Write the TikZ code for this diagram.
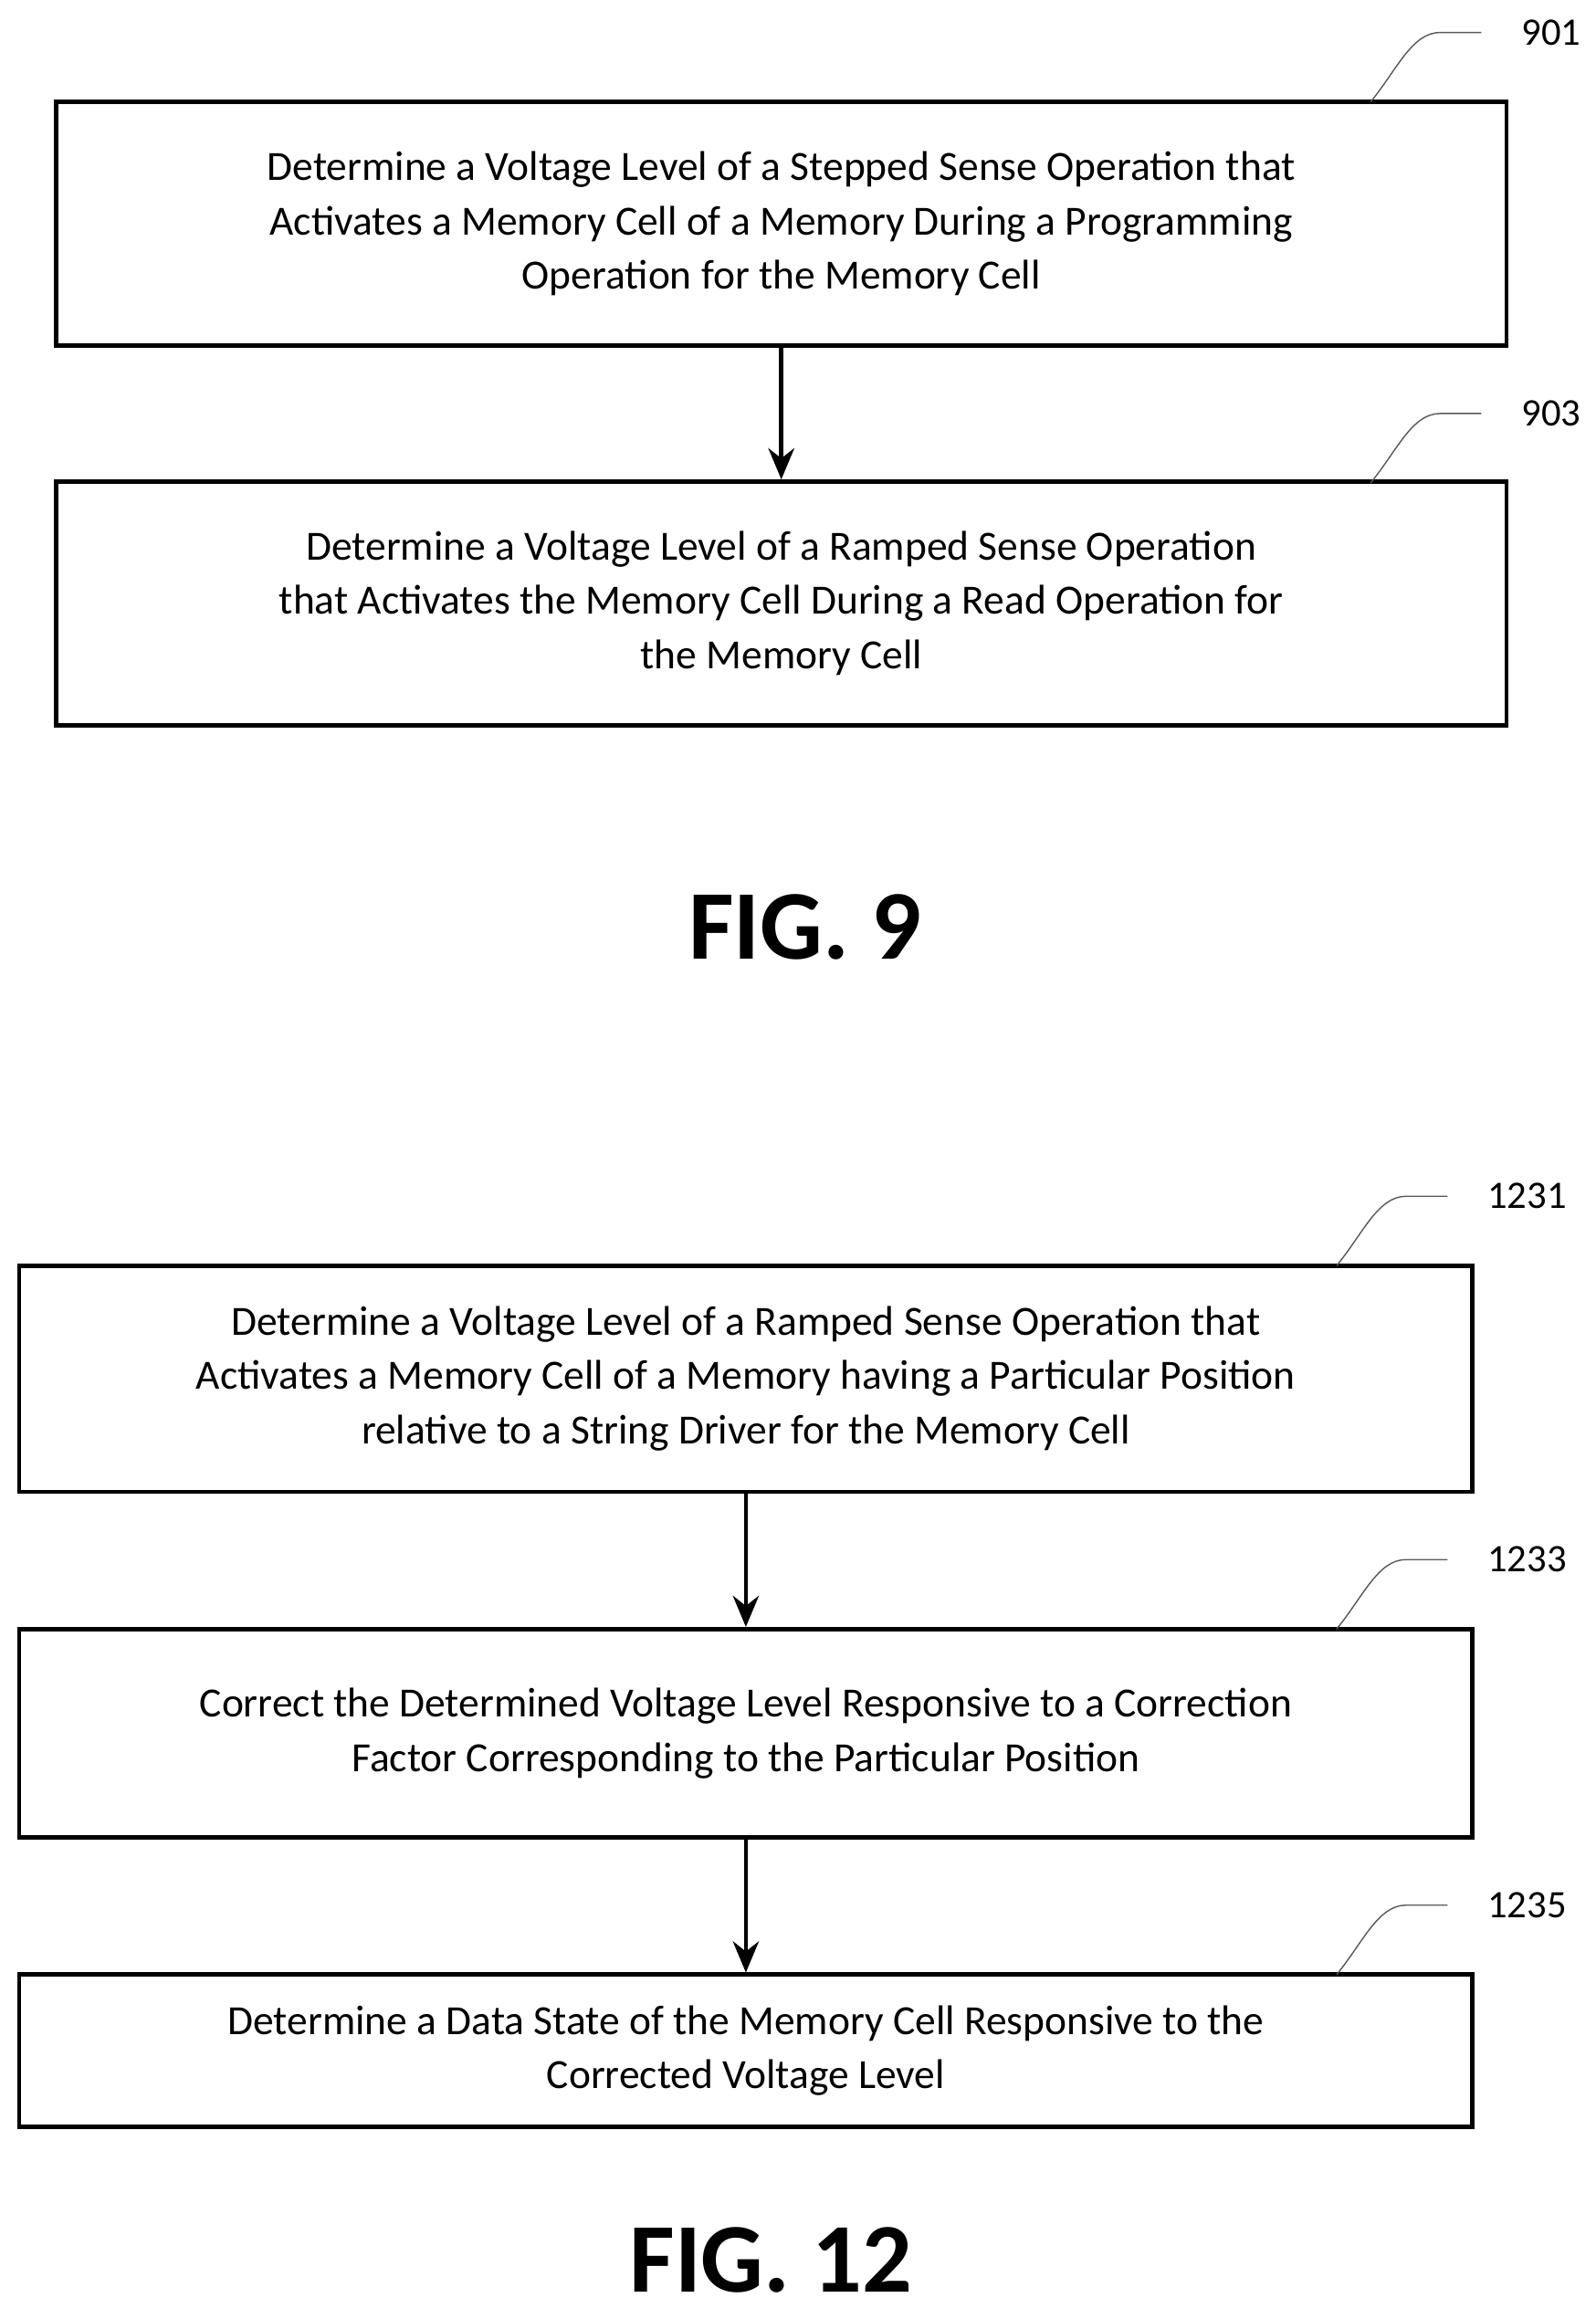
\documentclass[tikz,border=0pt]{standalone}
\usepackage{fontspec}
\setmainfont{Carlito}
\usetikzlibrary{arrows.meta}
\begin{document}
\begin{tikzpicture}[x=0.02cm,y=-0.02cm,
    stepbox/.style={draw, line width=1.6pt, align=center, font=\fontsize{16}{21}\selectfont, inner sep=0pt},
    flow/.style={line width=1.6pt, -{Stealth[length=12pt,width=10pt]}},
    leader/.style={line width=0.5pt, gray!70!black},
    refnum/.style={font=\fontsize{15}{18}\selectfont, anchor=west},
    figlabel/.style={font=\fontsize{38}{44}\selectfont\bfseries}]
    \useasboundingbox (0,0) rectangle (1080,1556);

    % FIG. 9
    \node[stepbox, minimum width=982*0.02cm, minimum height=165*0.02cm] (s901) at (529,151.5)
        {Determine a Voltage Level of a Stepped Sense Operation that\\Activates a Memory Cell of a Memory During a Programming\\Operation for the Memory Cell};
    \node[stepbox, minimum width=982*0.02cm, minimum height=165*0.02cm] (s903) at (529,408.5)
        {Determine a Voltage Level of a Ramped Sense Operation\\that Activates the Memory Cell During a Read Operation for\\the Memory Cell};
    \draw[flow] (s901) -- (s903);
    \node[figlabel] (fig9) at (545,628) {FIG. 9};

    % FIG. 12
    \node[stepbox, minimum width=984*0.02cm, minimum height=153*0.02cm] (s1231) at (505,933.5)
        {Determine a Voltage Level of a Ramped Sense Operation that\\Activates a Memory Cell of a Memory having a Particular Position\\relative to a String Driver for the Memory Cell};
    \node[stepbox, minimum width=984*0.02cm, minimum height=141*0.02cm] (s1233) at (505,1173.5)
        {Correct the Determined Voltage Level Responsive to a Correction\\Factor Corresponding to the Particular Position};
    \node[stepbox, minimum width=984*0.02cm, minimum height=103*0.02cm] (s1235) at (505,1388.5)
        {Determine a Data State of the Memory Cell Responsive to the\\Corrected Voltage Level};
    \draw[flow] (s1231) -- (s1233);
    \draw[flow] (s1233) -- (s1235);
    \node[figlabel] (fig12) at (522,1530) {FIG. 12};

    % reference numerals
    \foreach \stepname/\num/\xa/\ya in {s901/901/928/22, s903/903/928/280,
        s1231/1231/905/810, s1233/1233/905/1056, s1235/1235/905/1290} {
        \coordinate (\stepname-end) at (\xa+75,\ya);
        \draw[leader] (\xa,\ya+47) .. controls (\xa+18,\ya+25) and (\xa+28,\ya) .. (\xa+47,\ya) -- (\stepname-end);
        \node[refnum] (\stepname-num) at (\xa+96,\ya) {\num};
    }
\end{tikzpicture}
\end{document}
